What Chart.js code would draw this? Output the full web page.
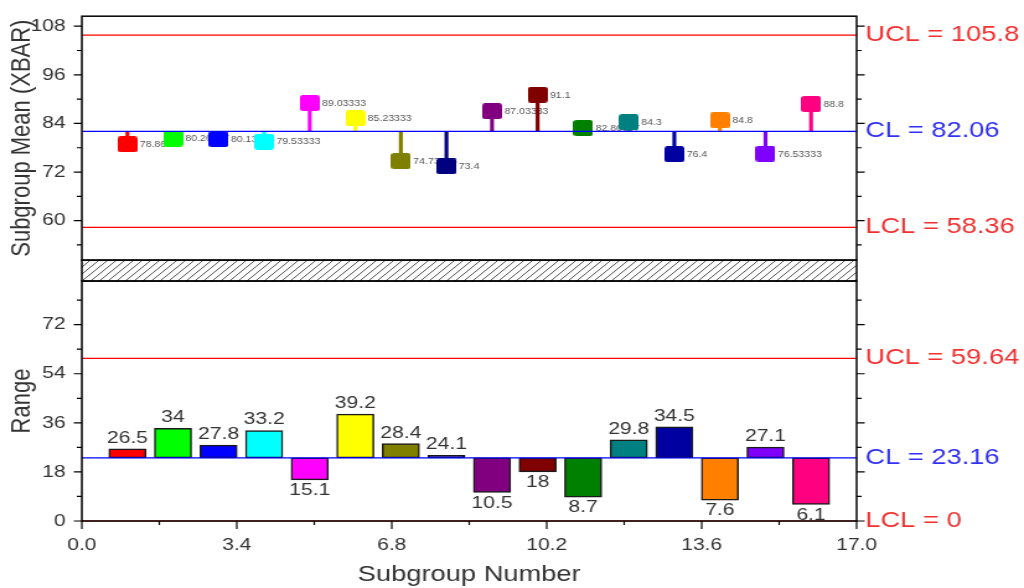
<!DOCTYPE html>
<html>
<head>
<meta charset="utf-8">
<script src="https://cdn.jsdelivr.net/npm/chart.js@4.4.1/dist/chart.umd.min.js"></script>
<style>
  html, body { margin: 0; padding: 0; background: #fff; overflow: hidden; }
  /* the original export is stretched sideways, so draw narrow and scale */
  #qc { display: block; transform: scaleX(1.2397); transform-origin: 0 0; }
</style>
</head>
<body>
<canvas id="qc" width="826" height="588"></canvas>
<script>
const subgroups = [1, 2, 3, 4, 5, 6, 7, 8, 9, 10, 11, 12, 13, 14, 15, 16];
const means = [78.86667, 80.26667, 80.13333, 79.53333, 89.03333, 85.23333, 74.73333, 73.4,
               87.03333, 91.1, 82.86667, 84.3, 76.4, 84.8, 76.53333, 88.8];
const ranges = [26.5, 34, 27.8, 33.2, 15.1, 39.2, 28.4, 24.1, 10.5, 18, 8.7, 29.8, 34.5, 7.6, 27.1, 6.1];
const colors = ["#FF0000", "#00FF00", "#0000FF", "#00FFFF", "#FF00FF", "#FFFF00", "#808000", "#000080",
                "#800080", "#800000", "#008000", "#008080", "#0000A0", "#FF8000", "#8000FF", "#FF0080"];

const limitNames = ["UCL", "CL", "LCL"];
const meanLimits = [105.8, 82.06, 58.36];
const rangeLimits = [59.64, 23.16, 0];

const meanTicks = [60, 72, 84, 96, 108];
const meanMinor = [54, 66, 78, 90, 102];
const rangeTicks = [0, 18, 36, 54, 72];
const rangeMinor = [9, 27, 45, 63, 81];
const xTicks = [0, 1.7, 3.4, 5.1, 6.8, 8.5, 10.2, 11.9, 13.6, 15.3, 17];

const txt = "#333";
const limitColors = ["#FF0000", "#0000FF", "#FF0000"];
const limitTextColors = ["#F23030", "#3030F2", "#F23030"];

Chart.defaults.font.family = '"Liberation Sans", Arial, sans-serif';

function makeMarker(color) {
  const c = document.createElement("canvas");
  c.width = 16;
  c.height = 16;
  const g = c.getContext("2d");
  g.fillStyle = color;
  g.beginPath();
  g.roundRect(0, 0, 16, 16, 2.5);
  g.fill();
  return c;
}

function limitLine(v, i, axis) {
  return {
    type: "line",
    data: [{ x: 0, y: v }, { x: 17, y: v }],
    borderColor: limitColors[i],
    borderWidth: 1.2,
    pointRadius: 0,
    clip: false,
    yAxisID: axis,
    order: 0
  };
}

// small grey numbers next to the markers, drawn under them like the original
const meanLabels = {
  id: "meanLabels",
  beforeDatasetsDraw(chart) {
    const ctx = chart.ctx;
    const meta = chart.getDatasetMeta(6);
    ctx.save();
    ctx.font = '8.5px "Liberation Sans", Arial, sans-serif';
    ctx.fillStyle = "#555";
    ctx.textBaseline = "middle";
    meta.data.forEach((pt, i) => {
      ctx.fillText(String(means[i]), pt.x + 10, pt.y + 0.5);
    });
    ctx.restore();
  }
};

const decorations = {
  id: "decorations",
  afterDatasetsDraw(chart) {
    const ctx = chart.ctx;
    const { left, right } = chart.chartArea;
    const top = chart.scales.yTop;
    const gap = chart.scales.yGap;
    const bot = chart.scales.yBot;
    const x = chart.scales.x;

    ctx.save();

    // range labels
    const barMeta = chart.getDatasetMeta(8);
    ctx.font = '17px "Liberation Sans", Arial, sans-serif';
    ctx.fillStyle = txt;
    ctx.textAlign = "center";
    barMeta.data.forEach((bar, i) => {
      const hi = Math.min(bar.y, bar.base);
      const lo = Math.max(bar.y, bar.base);
      if (ranges[i] >= rangeLimits[1]) {
        ctx.textBaseline = "alphabetic";
        ctx.fillText(String(ranges[i]), bar.x, hi - 6);
      } else {
        ctx.textBaseline = "top";
        ctx.fillText(String(ranges[i]), bar.x, lo + 2);
      }
    });

    // hatched break band
    ctx.save();
    ctx.beginPath();
    ctx.rect(left, gap.top, right - left, gap.bottom - gap.top);
    ctx.clip();
    ctx.strokeStyle = "#222";
    ctx.lineWidth = 0.8;
    const h = gap.bottom - gap.top;
    for (let sx = left - h; sx < right + h; sx += 7) {
      ctx.beginPath();
      ctx.moveTo(sx, gap.bottom);
      ctx.lineTo(sx + h, gap.top);
      ctx.stroke();
    }
    ctx.restore();

    // frames
    ctx.strokeStyle = "#000";
    ctx.lineWidth = 1.5;
    ctx.strokeRect(left, top.top, right - left, top.bottom - top.top);
    ctx.strokeRect(left, gap.top, right - left, gap.bottom - gap.top);
    ctx.strokeRect(left, bot.top, right - left, bot.bottom - bot.top);

    // tick marks, both sides
    ctx.lineWidth = 1.2;
    const sideTicks = (scale, values, len) => {
      values.forEach(v => {
        const y = scale.getPixelForValue(v);
        ctx.beginPath();
        ctx.moveTo(left - len, y);
        ctx.lineTo(left, y);
        ctx.moveTo(right, y);
        ctx.lineTo(right + len, y);
        ctx.stroke();
      });
    };
    sideTicks(top, meanTicks, 6.5);
    sideTicks(top, meanMinor, 4);
    sideTicks(bot, rangeTicks, 6.5);
    sideTicks(bot, rangeMinor, 4);
    xTicks.forEach((v, i) => {
      const px = x.getPixelForValue(v);
      ctx.beginPath();
      ctx.moveTo(px, bot.bottom);
      ctx.lineTo(px, bot.bottom + (i % 2 === 0 ? 8 : 4));
      ctx.stroke();
    });

    // control limit labels on the right
    ctx.font = '22px "Liberation Sans", Arial, sans-serif';
    ctx.textAlign = "left";
    ctx.textBaseline = "middle";
    meanLimits.forEach((v, i) => {
      ctx.fillStyle = limitTextColors[i];
      ctx.fillText(limitNames[i] + " = " + v, right + 7, top.getPixelForValue(v));
    });
    rangeLimits.forEach((v, i) => {
      ctx.fillStyle = limitTextColors[i];
      ctx.fillText(limitNames[i] + " = " + v, right + 7, bot.getPixelForValue(v));
    });

    ctx.restore();
  }
};

const yCommon = {
  type: "linear",
  position: "left",
  stack: "qc",
  grid: { display: false, drawTicks: true, tickLength: 7 },
  border: { display: false },
  afterFit: s => { s.width = 66; }
};

new Chart(document.getElementById("qc"), {
  type: "bar",
  data: {
    datasets: [
      ...meanLimits.map((v, i) => limitLine(v, i, "yTop")),
      ...rangeLimits.map((v, i) => limitLine(v, i, "yBot")),
      {
        type: "line",
        label: "means",
        data: subgroups.map((s, i) => ({ x: s, y: means[i] })),
        showLine: false,
        pointStyle: colors.map(makeMarker),
        pointRadius: 8,
        yAxisID: "yTop",
        order: 1
      },
      {
        type: "bar",
        label: "drop",
        data: subgroups.map((s, i) => ({ x: s, y: [meanLimits[1], means[i]] })),
        backgroundColor: colors,
        borderWidth: 0,
        barThickness: 2.5,
        grouped: false,
        yAxisID: "yTop",
        order: 2
      },
      {
        type: "bar",
        label: "range",
        data: subgroups.map((s, i) => ({ x: s, y: [rangeLimits[1], ranges[i]] })),
        backgroundColor: colors,
        borderColor: "#1a1a1a",
        borderWidth: 1.5,
        borderSkipped: false,
        barThickness: 30,
        grouped: false,
        yAxisID: "yBot",
        order: 2
      }
    ]
  },
  options: {
    responsive: false,
    animation: false,
    layout: { padding: { top: 14, right: 135, bottom: 0, left: 0 } },
    plugins: { legend: { display: false }, tooltip: { enabled: false } },
    scales: {
      x: {
        type: "linear",
        position: "bottom",
        min: 0,
        max: 17,
        offset: false,
        afterBuildTicks: s => { s.ticks = xTicks.map(v => ({ value: v })); },
        ticks: {
          autoSkip: false,
          maxRotation: 0,
          padding: 6,
          color: txt,
          font: { size: 17 },
          callback: (v, i) => (i % 2 === 0 ? Number(v).toFixed(1) : "")
        },
        grid: { display: false, drawTicks: true, tickLength: 8 },
        border: { display: false },
        title: { display: true, text: "Subgroup Number", color: txt, font: { size: 22 }, padding: { top: 0, bottom: 0 } },
        afterFit: s => { s.height = 67; }
      },
      yTop: {
        ...yCommon,
        weight: 3,
        stackWeight: 245,
        min: 50.25,
        max: 110.47,
        afterBuildTicks: s => { s.ticks = meanTicks.map(v => ({ value: v })); },
        ticks: { padding: 6, color: txt, font: { size: 17 } },
        title: { display: true, text: "Subgroup Mean (XBAR)", color: txt, font: { size: 22 }, padding: { top: 4.5, bottom: 0 } }
      },
      yGap: {
        ...yCommon,
        weight: 2,
        stackWeight: 21,
        min: 0,
        max: 1,
        ticks: { display: false }
      },
      yBot: {
        ...yCommon,
        weight: 1,
        stackWeight: 241,
        min: 0,
        max: 88,
        afterBuildTicks: s => { s.ticks = rangeTicks.map(v => ({ value: v })); },
        ticks: { padding: 6, color: txt, font: { size: 17 } },
        title: { display: true, text: "Range", color: txt, font: { size: 22 }, padding: { top: 4.5, bottom: 0 } }
      }
    }
  },
  plugins: [meanLabels, decorations]
});
</script>
</body>
</html>
